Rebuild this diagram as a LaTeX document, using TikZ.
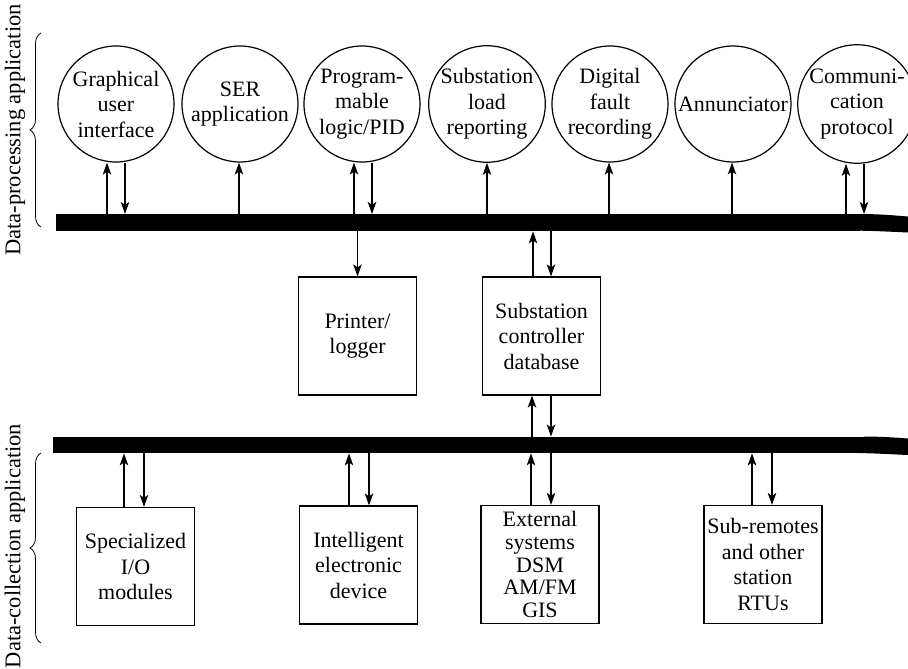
\documentclass[tikz,border=0pt]{standalone}
\usepackage{fontspec}
\setmainfont{Liberation Serif}
\usetikzlibrary{arrows.meta,decorations.pathreplacing}
\begin{document}
\begin{tikzpicture}[x=1pt,y=-1pt,
  every node/.style={font=\fontsize{22}{25.5}\selectfont},
  proc/.style={draw,circle,line width=1.2pt,minimum size=116pt,inner sep=0pt,align=center},
  unit/.style={draw,rectangle,line width=1.2pt,minimum width=118pt,minimum height=118pt,inner sep=0pt,align=center},
  arr/.style={line width=1.1pt,-{Stealth[length=12pt,width=8.5pt,inset=3pt]}},
  bus/.style={fill=black,inner sep=0pt,rectangle,anchor=north west},
  sidelabel/.style={rotate=90,font=\fontsize{22.5}{26}\selectfont},
  bracestyle/.style={decorate,decoration={brace,amplitude=11pt},line width=0.8pt}
]
\useasboundingbox (0,0) rectangle (908,669);

% buses
\node[bus,minimum width=804pt,minimum height=17pt] (bus1) at (56,214) {};
\fill (859,214) .. controls (880,214) and (895,215.5) .. (908,216.5) -- (908,232.5)
      .. controls (885,231.5) and (860,230) .. (840,231) -- cycle;
\node[bus,minimum width=812pt,minimum height=16.5pt] (bus2) at (53,436.5) {};
\fill (864,436.5) .. controls (880,436.5) and (895,437.5) .. (908,438.5) -- (908,455)
      .. controls (885,454) and (860,452.5) .. (840,453) -- cycle;

% processing circles
\node[proc] (c1) at (116,104) {Graphical\\user\\interface};
\node[proc] (c2) at (240,104) {SER\\application};
\node[proc] (c3) at (362,104) {Program-\\mable\\logic/PID};
\node[proc] (c4) at (487,104) {Substation\\load\\reporting};
\node[proc] (c5) at (610,104) {Digital\\fault\\recording};
\node[proc] (c6) at (733,104) {Annunciator};
\node[proc] (c7) at (857,104) {Communi-\\cation\\protocol};

% middle boxes
\node[unit] (pr) at (357.5,336) {Printer/\\logger};
\node[unit] (db) at (541.5,336) {Substation\\controller\\database};

% collection boxes
\node[unit] (io)  at (135.5,566.5) {Specialized\\I/O\\modules};
\node[unit] (ied) at (358.5,565) {Intelligent\\electronic\\device};
\node[unit,font=\fontsize{22}{22.6}\selectfont] (ext) at (540,564.5) {External\\systems\\DSM\\AM/FM\\GIS};
\node[unit] (rtu) at (763,564.5) {Sub-remotes\\and other\\station\\RTUs};

% arrows: circles <-> bus1
\draw[arr] ([xshift=-9pt]c1.south |- bus1.north) -- ([xshift=-9pt]c1.south);
\draw[arr] ([xshift=9pt]c1.south) -- ([xshift=9pt]c1.south |- bus1.north);
\draw[arr] ([xshift=-1pt]c2.south |- bus1.north) -- ([xshift=-1pt]c2.south);
\draw[arr] ([xshift=-8pt]c3.south |- bus1.north) -- ([xshift=-8pt]c3.south);
\draw[arr] ([xshift=10pt]c3.south) -- ([xshift=10pt]c3.south |- bus1.north);
\draw[arr] (c4.south |- bus1.north) -- (c4.south);
\draw[arr] ([xshift=-1pt]c5.south |- bus1.north) -- ([xshift=-1pt]c5.south);
\draw[arr] ([xshift=-1pt]c6.south |- bus1.north) -- ([xshift=-1pt]c6.south);
\draw[arr] ([xshift=-11pt]c7.south |- bus1.north) -- ([xshift=-11pt]c7.south);
\draw[arr] ([xshift=7pt]c7.south) -- ([xshift=7pt]c7.south |- bus1.north);

% bus1 -> printer, bus1 <-> database
\draw[arr] (pr.north |- bus1.south) -- (pr.north);
\draw[arr] ([xshift=-8.5pt]db.north) -- ([xshift=-8.5pt]db.north |- bus1.south);
\draw[arr] ([xshift=9.5pt]db.north |- bus1.south) -- ([xshift=9.5pt]db.north);
% database <-> bus2
\draw[arr] ([xshift=-9.5pt]db.south |- bus2.north) -- ([xshift=-9.5pt]db.south);
\draw[arr] ([xshift=9.5pt]db.south) -- ([xshift=9.5pt]db.south |- bus2.north);

% bus2 <-> collection boxes
\draw[arr] ([xshift=-11.5pt]io.north) -- ([xshift=-11.5pt]io.north |- bus2.south);
\draw[arr] ([xshift=8.5pt]io.north |- bus2.south) -- ([xshift=8.5pt]io.north);
\draw[arr] ([xshift=-9.5pt]ied.north) -- ([xshift=-9.5pt]ied.north |- bus2.south);
\draw[arr] ([xshift=10.5pt]ied.north |- bus2.south) -- ([xshift=10.5pt]ied.north);
\draw[arr] ([xshift=-9pt]ext.north) -- ([xshift=-9pt]ext.north |- bus2.south);
\draw[arr] ([xshift=11pt]ext.north |- bus2.south) -- ([xshift=11pt]ext.north);
\draw[arr] ([xshift=-11pt]rtu.north) -- ([xshift=-11pt]rtu.north |- bus2.south);
\draw[arr] ([xshift=9pt]rtu.north |- bus2.south) -- ([xshift=9pt]rtu.north);

% side braces and labels
\draw[bracestyle] (41,227) -- (41,33);
\draw[bracestyle] (41,643) -- (41,453);
\node[sidelabel] (lp) at (15,130) {Data-processing application};
\node[sidelabel] (lc) at (15,546) {Data-collection application};
\end{tikzpicture}
\end{document}
